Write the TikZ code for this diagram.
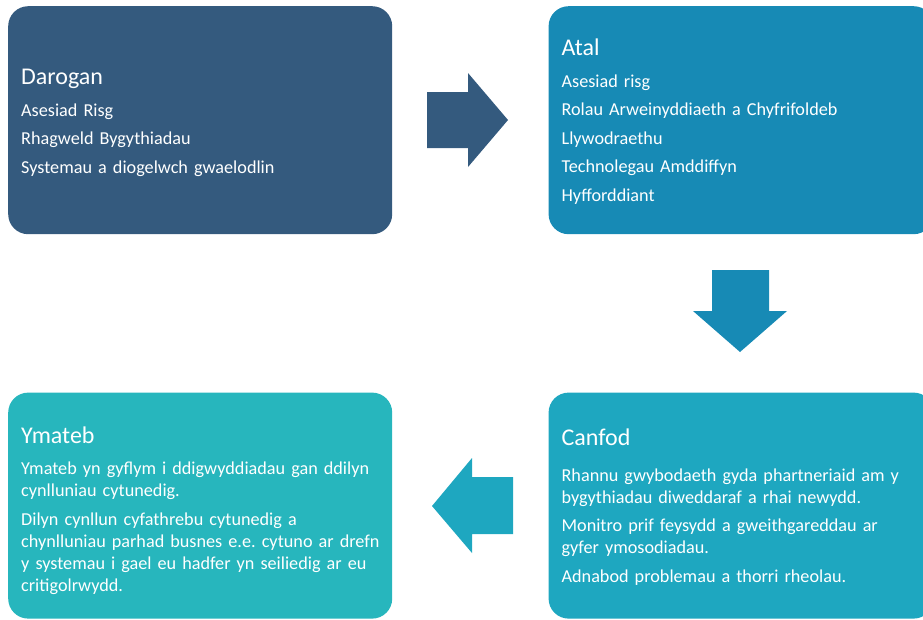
\documentclass[tikz,border=0pt]{standalone}
\usepackage{fontspec}
\setmainfont{Carlito}
\usetikzlibrary{positioning}

\definecolor{darogancol}{HTML}{345A7E}
\definecolor{atalcol}{HTML}{178AB5}
\definecolor{canfodcol}{HTML}{1EA7C0}
\definecolor{ymatebcol}{HTML}{27B6BD}

\newcommand{\phasebody}{\fontsize{18.2}{22}\selectfont\frenchspacing
  \setlength{\parskip}{6.5pt}\setlength{\parindent}{0pt}}
% title and gap below it
\newcommand{\phasetitle}[2]{\setlength{\leftskip}{13pt}%
  {\fontsize{24}{28}\selectfont #1\par}\vspace{#2}}
% moves the text block down a little
\newcommand{\phasedown}[1]{\par\vspace{-#1}}

\begin{document}
\begin{tikzpicture}[x=1pt,y=1pt,node distance=156pt,
  phase node/.style={rectangle,rounded corners=20pt,text=white,align=left,
    inner xsep=0pt,inner ysep=0pt,minimum height=228pt,font=\phasebody}]
  \useasboundingbox (0,0) rectangle (923,-619);
  \clip (0,0) rectangle (923,-619);
  \node[phase node, fill=darogancol, text width=384pt, anchor=north west] (darogan) at (8,-6)
    {\phasetitle{Darogan}{3pt}Asesiad Risg\par Rhagweld Bygythiadau\par Systemau a diogelwch gwaelodlin\phasedown{5pt}};
  \node[phase node, fill=atalcol, text width=385pt] (atal) [right=of darogan]
    {\phasetitle{Atal}{3pt}Asesiad risg\par Rolau Arweinyddiaeth a Chyfrifoldeb\par Llywodraethu\par
     Technolegau Amddiffyn\par Hyfforddiant\phasedown{3pt}};
  \node[phase node, fill=ymatebcol, text width=384pt, minimum height=226pt] (ymateb) [below=158pt of darogan]
    {\phasetitle{Ymateb}{3pt}Ymateb yn gyflym i ddigwyddiadau gan ddilyn\newline cynlluniau cytunedig.\par
     Dilyn cynllun cyfathrebu cytunedig a\newline chynlluniau parhad busnes e.e. cytuno ar drefn\newline
     y systemau i gael eu hadfer yn seiliedig ar eu\newline critigolrwydd.\phasedown{10pt}};
  \node[phase node, fill=canfodcol, text width=385pt, minimum height=226pt] (canfod) [below=158pt of atal]
    {\phasetitle{Canfod}{7pt}Rhannu gwybodaeth gyda phartneriaid am y\newline bygythiadau diweddaraf a rhai newydd.\par
     Monitro prif feysydd a gweithgareddau ar\newline gyfer ymosodiadau.\par
     Adnabod problemau a thorri rheolau.\phasedown{3pt}};
  % block arrows between the phases
  \fill[darogancol] (427,-92) -- (468,-92) -- (468,-73) -- (508,-120) -- (468,-167) -- (468,-148) -- (427,-148) -- cycle;
  \fill[atalcol] (712,-270) -- (769,-270) -- (769,-311) -- (787,-311) -- (740,-352) -- (693,-311) -- (712,-311) -- cycle;
  \fill[canfodcol] (513,-477) -- (472,-477) -- (472,-458) -- (432,-506) -- (472,-553) -- (472,-534) -- (513,-534) -- cycle;
\end{tikzpicture}
\end{document}
